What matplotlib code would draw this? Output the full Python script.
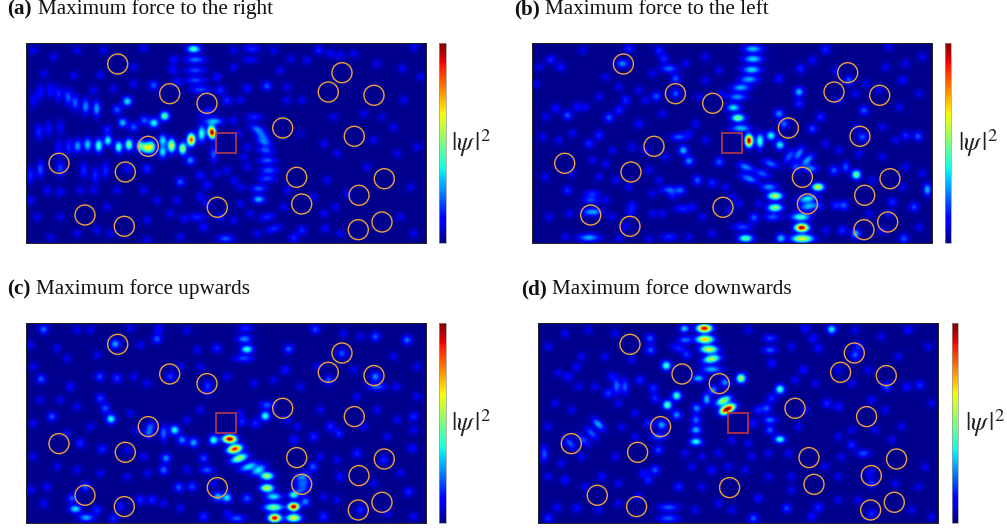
import matplotlib
matplotlib.use("Agg")
import matplotlib.pyplot as plt
from matplotlib.patches import Circle, Rectangle
import numpy as np

plt.rcParams['mathtext.fontset'] = 'stix'
plt.rcParams['font.family'] = ['Liberation Serif', 'DejaVu Serif']

W, H = 1007, 529

titles = ["(a)", "(b)", "(c)", "(d)"]
captions = ["Maximum force to the right", "Maximum force to the left",
            "Maximum force upwards", "Maximum force downwards"]

# scatterers, in panel units (panel is 40 x 20)
circle_x = [9.17, 14.37, 18.1, 31.6, 30.23, 34.8, 25.67, 32.83, 12.23, 3.3,
            9.93, 27.07, 35.83, 33.3, 27.57, 19.13, 5.9, 9.83, 35.6, 33.23]
circle_y = [17.9, 14.93, 13.97, 17.03, 15.1, 14.77, 11.5, 10.67, 9.67, 7.97,
            7.1, 6.57, 6.43, 4.77, 3.9, 3.57, 2.8, 1.67, 2.1, 1.33]

# bright spots: x, y, |psi|^2, [angle, [length]]
# x, y are pixels of a 3x crop of the reference
spots_a = [
    (635, 396, 1.0, 80, 9), (604, 400, .4, 90), (573, 418, .85, 90, 9), (547, 445, .55, 90, 9),
    (514, 436, .6, 90, 10), (487, 420, .35, 90, 9), (487, 455, .35, 90, 9), (454, 440, .5, 90, 9),
    (438, 442, .55, 90, 8), (419, 437, .42, 90, 9), (386, 433, .48, 90, 9), (355, 440, .42, 90, 9),
    (323, 421, .38, 90, 8), (295, 436, .42, 90, 10), (262, 433, .33, 90, 10), (232, 437, .27, 90, 10),
    (205, 440, .15, 90), (175, 442, .12, 90), (493, 347, .45), (461, 368, .38), (432, 360, .2),
    (381, 303, .35), (367, 367, .3), (400, 380, .2), (350, 328, .2), (320, 388, .15),
    (289, 325, .27, 90), (256, 318, .25, 90), (225, 307, .2, 90), (203, 290, .2, 90),
    (175, 280, .15, 90), (150, 270, .12, 90), (120, 275, .12, 90), (100, 300, .1, 90),
    (115, 395, .15, 90), (180, 380, .1, 90), (145, 385, .12, 90), (640, 363, .3, 0, 14),
    (620, 335, .15, -20), (580, 146, .42, 0, 10), (585, 178, .22, 0, 15), (585, 210, .18, 0, 15),
    (585, 240, .18, 0, 15), (600, 268, .18, 0, 15), (520, 178, .12), (517, 208, .12),
    (460, 255, .2), (530, 245, .12), (650, 230, .12), (660, 270, .15), (680, 300, .15),
    (740, 265, .12), (800, 257, .2), (755, 146, .15, 0, 12), (750, 178, .1, 0, 12),
    (762, 350, .15, 0), (770, 385, .2, 20), (785, 405, .2, 30), (790, 425, .22, 20),
    (795, 450, .2, 10), (800, 480, .2, 0, 13), (805, 510, .2, 0, 13), (800, 535, .18, 0, 13),
    (775, 565, .2, 0), (775, 597, .3, 0, 9), (800, 650, .15, -15), (820, 685, .15, -15),
    (180, 505, .18, 90), (120, 507, .2, 90), (90, 525, .15, 90), (250, 510, .15, 90),
    (285, 525, .15, 90), (315, 510, .15, 90), (380, 505, .12), (440, 505, .15), (540, 545, .2),
    (570, 480, .25), (640, 462, .2, 90), (600, 525, .12), (620, 555, .12), (600, 590, .1),
    (620, 610, .1), (590, 650, .15, 0), (660, 650, .12), (610, 680, .12), (675, 715, .2, 0),
    (880, 712, .15), (905, 690, .15), (975, 685, .1), (150, 712, .08), (90, 600, .1),
    (180, 575, .1), (140, 570, .1), (955, 150, .15), (990, 160, .1), (1020, 165, .1),
    (1205, 205, .1), (1145, 350, .07), (900, 400, .05),
]

spots_b = [
    (730, 421, 1.0, 90, 9), (763, 422, .42, 90, 11), (796, 406, .38), (823, 434, .36), (820, 340, .25),
    (835, 370, .22), (880, 460, .25, 120), (905, 480, .28, 135), (850, 468, .2, 120), (870, 500, .18),
    (915, 505, .25, 0, 10), (937, 560, .6, 0, 9), (905, 595, .35, -10, 14), (910, 618, .3, -10, 14),
    (888, 682, 1.0, 0, 10), (890, 715, .62, 0, 16), (885, 650, .42, 0, 14), (808, 587, .58, 0, 11),
    (808, 622, .52, 0, 11), (745, 652, .2), (800, 650, .2, 0), (720, 714, .45, 0, 11), (825, 714, .3),
    (790, 560, .25, 0), (710, 680, .18, 0, 14), (730, 535, .25, 20, 14), (720, 500, .25, 20),
    (795, 490, .22, 20), (770, 520, .2, 20), (742, 146, .3, 0, 14), (742, 176, .33, 0, 14),
    (738, 208, .33, 0, 14), (730, 237, .28, 0, 14), (705, 262, .28, 0, 14), (695, 290, .25, 0, 14),
    (683, 322, .35, 0, 10), (697, 353, .5, 0, 10), (705, 384, .3, 0, 14), (885, 205, .15),
    (880, 275, .3), (880, 310, .15), (820, 235, .13), (1052, 523, .48), (1020, 500, .2, 90, 8),
    (985, 510, .2), (1265, 568, .3, 90, 9), (1237, 408, .2), (1200, 405, .15), (1225, 620, .18),
    (1160, 605, .15), (1050, 700, .3), (1195, 715, .2), (1010, 690, .15), (990, 615, .15),
    (1015, 615, .2), (640, 485, .2), (550, 482, .25), (533, 450, .3), (520, 410, .2, 0), (575, 540, .2),
    (490, 568, .2, 0), (525, 570, .2), (620, 548, .15), (490, 205, .22, 0), (510, 235, .2), (510, 280, .2),
    (452, 288, .2), (460, 150, .15), (475, 175, .15), (370, 145, .15), (350, 190, .25, 0, 9),
    (135, 178, .15), (165, 200, .13), (185, 345, .2), (310, 352, .2), (360, 300, .15), (340, 330, .15),
    (215, 320, .12), (150, 325, .12), (280, 405, .15), (250, 430, .15), (400, 370, .12),
    (260, 635, .28, 0, 15), (255, 600, .18, 0), (260, 580, .15, 0), (185, 570, .15), (250, 712, .28, 0, 16),
    (380, 615, .12), (360, 678, .1), (375, 635, .12), (490, 710, .15, 0), (530, 625, .15, 0),
    (500, 585, .12), (920, 385, .18), (945, 350, .15), (1070, 410, .2), (1075, 330, .2), (1190, 240, .12),
    (960, 148, .15), (920, 180, .1), (1030, 240, .2),
]

spots_c = [
    (688, 507, 1.0, 0, 10), (703, 537, .9, -15, 11), (717, 565, .55, -20, 13), (640, 510, .4),
    (745, 590, .35, -20, 14), (775, 600, .35, -30), (800, 618, .55, 0, 10), (800, 654, .6, 0, 10),
    (820, 680, .35, 0), (820, 712, .5, 0, 14), (880, 710, 1.0, 0, 8), (880, 744, .62, 0, 11),
    (823, 744, .95, 0, 9), (880, 675, .38, 0, 8), (915, 695, .25), (905, 620, .25, -20), (908, 640, .2, -20),
    (905, 660, .18, -20), (938, 590, .2), (795, 438, .4), (800, 405, .2, 0, 10), (740, 238, .4, 0, 9),
    (732, 207, .25, 0, 11), (735, 175, .15, 0, 11), (730, 265, .18, 0, 14), (523, 480, .38), (490, 490, .22, 90),
    (545, 510, .25), (580, 518, .28), (332, 447, .38), (315, 415, .2), (497, 565, .25), (490, 600, .22),
    (535, 652, .2), (575, 650, .18), (680, 683, .35), (652, 680, .3), (740, 685, .2), (620, 600, .2, 0, 10),
    (610, 565, .18), (225, 717, .35, 0, 9), (258, 743, .28, 0, 11), (215, 685, .2), (255, 650, .2),
    (290, 720, .15), (340, 745, .15), (420, 690, .15), (455, 690, .15), (865, 237, .2), (855, 300, .13),
    (1125, 320, .25), (1125, 200, .2), (1220, 210, .22), (1130, 350, .2, 0, 14), (985, 330, .2), (1025, 250, .2),
    (945, 178, .18), (130, 178, .22), (345, 222, .28), (470, 207, .2), (475, 178, .12), (650, 235, .15),
    (122, 327, .2), (210, 350, .12), (298, 320, .18), (350, 325, .17), (155, 440, .2), (510, 320, .17),
    (622, 345, .15), (622, 365, .1), (300, 385, .17), (240, 520, .15), (305, 537, .15), (450, 470, .2),
    (445, 490, .2), (1240, 440, .15), (1235, 535, .12), (1015, 490, .15), (990, 470, .15), (940, 500, .15),
    (880, 510, .13), (1070, 550, .15), (1150, 570, .15), (1225, 665, .15), (1080, 720, .15), (1020, 620, .13),
    (725, 455, .15), (765, 460, .15), (610, 740, .15), (710, 745, .2, 0), (970, 740, .15), (360, 710, .12),
    (140, 650, .1), (130, 700, .1), (90, 660, .1),
]

spots_d = [
    (670, 416, 1.0, -25, 11), (655, 392, .55, -25), (598, 175, .95, 0, 11), (600, 208, .7, 0, 13),
    (612, 238, .6, 0, 13), (620, 267, .55, -10, 13), (620, 298, .28, 0, 15), (708, 325, .55), (825, 358, .42),
    (980, 178, .35), (538, 176, .32, 0, 7), (540, 210, .22, 0, 10), (484, 287, .42), (515, 377, .42), (487, 405, .45),
    (605, 388, .3, 90, 9), (575, 415, .25), (580, 325, .3, 0, 9), (625, 360, .25), (660, 337, .25), (515, 435, .25),
    (573, 480, .3, 0, 8), (573, 515, .38, 0, 9), (573, 450, .22), (825, 508, .4, 0, 8), (795, 450, .22, 0, 10),
    (795, 480, .2), (785, 415, .2), (800, 385, .15), (760, 420, .15), (655, 425, .25), (745, 460, .12), (470, 465, .28),
    (435, 205, .2), (437, 240, .2), (445, 355, .15), (450, 385, .15), (520, 235, .15, 20), (545, 255, .15),
    (360, 350, .2, 90), (335, 348, .22, 90), (310, 370, .17), (280, 463, .28, 45), (260, 490, .2, 45), (235, 510, .18, 45),
    (195, 520, .2, 45), (118, 552, .2, 90), (190, 320, .12), (215, 290, .1), (320, 320, .12), (405, 330, .15), (430, 460, .15),
    (460, 500, .2, 0), (460, 540, .18), (450, 600, .2), (430, 630, .15), (415, 610, .12), (490, 712, .2, 0, 15),
    (490, 745, .2, 0, 15), (520, 650, .15), (620, 600, .12), (745, 745, .2), (760, 685, .12), (845, 715, .18), (940, 712, .15),
    (920, 740, .12), (130, 745, .15), (215, 715, .12), (155, 712, .1), (180, 630, .12), (290, 620, .12), (1245, 345, .15),
    (1205, 350, .12), (1050, 255, .2), (1060, 230, .15), (1145, 350, .2), (965, 400, .15), (1000, 410, .12), (1100, 390, .1),
    (1075, 550, .2, 0, 10), (1040, 525, .15), (1100, 640, .15), (1095, 610, .12), (1100, 730, .15), (1210, 180, .12),
    (900, 175, .12), (795, 205, .17, 0, 10), (795, 240, .2, 0, 10), (800, 280, .12), (895, 300, .12), (940, 235, .12), (925, 205, .12),
]

# dim spots of the background ripple, same crop pixels
faint_a = [
    (1090, 340), (1180, 380), (1210, 300), (1060, 160), (1130, 190), (1240, 140), (1260, 230), (920, 180), (860, 260),
    (905, 300), (860, 300), (1000, 350), (1120, 420), (970, 430), (1010, 460), (1190, 460), (1250, 440), (1100, 500),
    (980, 540), (1040, 580), (1230, 560), (1005, 620), (1200, 650), (970, 640), (1240, 700), (1020, 700), (850, 620),
    (860, 570), (940, 590), (720, 560), (720, 610), (700, 660), (750, 640), (470, 600), (510, 640), (440, 660),
    (320, 620), (290, 690), (180, 650), (110, 650), (230, 700), (330, 700), (440, 720), (540, 710), (770, 700),
    (740, 440), (740, 500), (680, 510), (650, 520), (700, 540), (530, 600), (550, 655), (350, 570), (280, 570),
    (240, 570), (430, 570), (100, 150), (160, 170), (230, 150), (310, 150), (430, 145), (400, 200), (300, 225),
    (220, 225), (130, 220), (400, 250), (340, 265), (280, 270), (700, 150), (700, 200), (820, 150), (870, 175),
    (840, 210), (700, 360), (720, 300), (715, 400), (730, 470),
]
faint_b = [
    (600, 170), (540, 190), (640, 210), (600, 240), (580, 290), (650, 280), (570, 370), (550, 400), (600, 420), (470, 340),
    (420, 300), (400, 270), (280, 290), (240, 320), (120, 350), (90, 250), (100, 200), (230, 150), (300, 230), (340, 260),
    (440, 220), (420, 450), (480, 470), (380, 440), (320, 450), (300, 490), (260, 480), (200, 400), (160, 420), (110, 410),
    (120, 530), (200, 520), (280, 530), (330, 540), (430, 510), (460, 540), (440, 580), (370, 560), (300, 600), (190, 640),
    (130, 650), (320, 650), (440, 640), (470, 640), (560, 620), (590, 650), (620, 700), (550, 710), (430, 715), (340, 715),
    (180, 710), (660, 560), (680, 590), (670, 630), (700, 610), (760, 610), (990, 210), (1080, 250), (1140, 200), (1200, 190),
    (1250, 170), (1150, 140), (1000, 300), (1050, 280), (1120, 270), (1180, 320), (1240, 280), (1050, 380), (1130, 380),
    (1170, 420), (960, 430), (1000, 450), (1060, 460), (1130, 470), (1200, 500), (1250, 520), (1100, 540), (1190, 560),
    (1150, 640), (1240, 680), (960, 690), (940, 620), (1090, 640), (1130, 690),
]
faint_c = [
    (90, 225), (170, 235), (230, 180), (270, 180), (390, 175), (420, 225), (290, 255), (200, 265), (100, 290), (400, 320),
    (440, 340), (560, 180), (590, 240), (540, 290), (600, 290), (680, 320), (760, 340), (820, 330), (900, 350), (950, 290),
    (1030, 190), (1080, 200), (1180, 260), (1250, 290), (1060, 300), (1190, 350), (1250, 380), (1070, 380), (960, 420),
    (1130, 420), (1190, 450), (1090, 470), (1160, 500), (1240, 480), (960, 560), (1010, 570), (1200, 610), (1120, 640),
    (970, 680), (1010, 690), (1160, 730), (1240, 740), (230, 410), (180, 390), (120, 390), (100, 460), (200, 490), (270, 470),
    (390, 430), (410, 480), (380, 540), (430, 560), (170, 590), (230, 600), (300, 610), (380, 620), (440, 610), (100, 560),
    (490, 700), (540, 715), (560, 450), (600, 420), (720, 430), (640, 640), (560, 600), (860, 450), (890, 470), (680, 730),
]
faint_d = [
    (130, 230), (180, 190), (250, 180), (330, 190), (230, 260), (300, 260), (380, 270), (160, 310), (220, 350), (270, 350),
    (150, 400), (200, 420), (130, 470), (340, 400), (390, 430), (350, 470), (170, 580), (230, 560), (330, 560), (390, 500),
    (130, 620), (240, 650), (340, 640), (400, 680), (340, 700), (280, 720), (540, 550), (590, 560), (640, 550), (560, 590),
    (670, 590), (590, 650), (640, 700), (570, 720), (680, 720), (720, 600), (740, 560), (790, 550), (790, 620), (850, 550),
    (860, 620), (1000, 620), (1010, 560), (960, 590), (860, 660), (1000, 690), (1060, 690), (1170, 640), (1240, 650),
    (1220, 720), (1280, 740), (1040, 480), (1000, 500), (1160, 510), (1260, 590), (1110, 480), (1190, 470), (1280, 400),
    (1140, 420), (1040, 340), (1000, 300), (1090, 300), (1180, 260), (1270, 230), (1130, 200), (1050, 180), (860, 230),
    (730, 180), (870, 330), (930, 340), (900, 420), (880, 470), (730, 520), (680, 510),
]

panel_spots = [spots_a, spots_b, spots_c, spots_d]
panel_faint = [faint_a, faint_b, faint_c, faint_d]
faint_level = 0.09
# where each panel starts in its crop, and the crop's place in the reference
crop_origin = [(78, 129), (80, 129), (78, 160), (100, 160)]
panel_left = [26, 531.7, 26, 538.3]
panel_top = [43, 43, 323.3, 323.3]
bar_left = [439, 945, 439, 951.7]
label_x = [471, 978, 471, 985]
title_x = [7, 514, 7, 521]
caption_x = [37.5, 545, 36, 552]
title_y = [14, 14, 294, 294]
square_color = ['#b23a4a', '#b23a4a', '#b23a4a', '#c8323c']


def field(spots, faint, x0, y0):
    xs, ys = np.meshgrid(np.arange(0, 1200, 2.0), np.arange(0, 600, 2.0))
    out = np.zeros(xs.shape)
    for x, y in faint:
        out += faint_level * np.exp(-((xs - (x - x0))**2 + (ys - (y - y0))**2) / (2 * 9.0**2))
    for spot in spots:
        x, y, amp, *shape = spot
        dx = xs - (x - x0)
        dy = ys - (y - y0)
        if len(shape) == 0:
            out += amp * np.exp(-(dx**2 + dy**2) / (2 * 9.5**2))
        else:
            ang = np.deg2rad(shape[0])
            long_s = 1.35 * (shape[1] if len(shape) > 1 else 12.0)
            u = dx * np.cos(ang) + dy * np.sin(ang)
            v = -dx * np.sin(ang) + dy * np.cos(ang)
            out += amp * np.exp(-u**2 / (2 * long_s**2) - v**2 / (2 * 8.0**2))
    return np.clip(out + 0.015, 0, 1)


def px_axes(fig, left, top, width, height):
    return fig.add_axes([left / W, 1 - (top + height) / H, width / W, height / H])


fig = plt.figure(figsize=(W / 100, H / 100), dpi=100)

for i in range(4):
    x0, y0 = crop_origin[i]
    ax = px_axes(fig, panel_left[i], panel_top[i], 400, 200)
    im = ax.imshow(field(panel_spots[i], panel_faint[i], x0, y0), cmap='jet', vmin=0, vmax=1,
                   extent=[0, 40, 0, 20], interpolation='bilinear', aspect='auto')
    for cx, cy in zip(circle_x, circle_y):
        ax.add_patch(Circle((cx, cy), 1.0, fill=False, edgecolor='#f0a040', lw=1.0))
    ax.add_patch(Rectangle((19, 9), 2, 2, fill=False, edgecolor=square_color[i], lw=1.2))
    ax.set_xticks([])
    ax.set_yticks([])
    for s in ax.spines.values():
        s.set_linewidth(0.7)
        s.set_color('#222222')

    cax = px_axes(fig, bar_left[i], panel_top[i], 6.5, 200)
    cb = fig.colorbar(im, cax=cax)
    cb.set_ticks([])
    cb.outline.set_linewidth(0.5)
    cb.outline.set_edgecolor('#999999')

    fig.text(label_x[i] / W, 1 - (panel_top[i] + 100) / H, r'$|\psi\,|^2$', fontsize=19,
             ha='center', va='center', color='#222222')
    fig.text(title_x[i] / W, 1 - title_y[i] / H, titles[i], fontsize=15.2, weight='bold',
             ha='left', va='baseline', color='#111111')
    fig.text(caption_x[i] / W, 1 - title_y[i] / H, captions[i], fontsize=15.2,
             ha='left', va='baseline', color='#111111')

fig.savefig("out.png", dpi=100)
